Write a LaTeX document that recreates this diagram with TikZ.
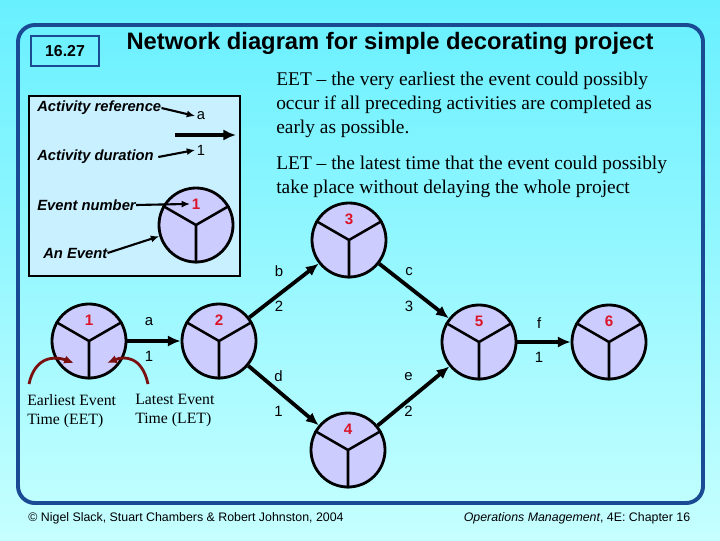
\documentclass[tikz,border=0pt]{standalone}
\usepackage{fontspec}
\setmainfont{Liberation Sans}
\newfontfamily\serifface{Liberation Serif}
\usetikzlibrary{arrows.meta}
\definecolor{bgtop}{RGB}{104,240,255}
\definecolor{bgbot}{RGB}{198,255,255}
\definecolor{framecol}{RGB}{26,74,148}
\definecolor{legendfill}{RGB}{200,240,255}
\definecolor{eventfill}{RGB}{204,204,255}
\definecolor{numred}{RGB}{220,20,40}
\definecolor{timered}{RGB}{122,16,16}

\begin{document}
\begin{tikzpicture}[x=0.025cm, y=-0.025cm,
    event/.style={circle, draw, line width=2pt, fill=eventfill, minimum size=1.85cm, inner sep=0pt},
    yline/.style={line width=1.8pt},
    evnum/.style={text=numred, font=\bfseries\fontsize{10.8}{12}\selectfont, inner sep=0pt},
    actarrow/.style={line width=2.7pt, -{Latex[length=9pt,width=8pt]}},
    actlabel/.style={font=\fontsize{10.6}{12}\selectfont, midway, inner sep=0pt, xshift=-3.5pt},
    legendtxt/.style={font=\bfseries\itshape\fontsize{10.5}{12}\selectfont, anchor=west, inner sep=0pt},
    legarrow/.style={line width=1.5pt, -{Latex[length=6pt,width=5pt]}},
    note/.style={font=\serifface\fontsize{13.8}{17}\selectfont, anchor=north west, align=left, inner sep=0pt},
    timetxt/.style={font=\serifface\fontsize{11.2}{13.5}\selectfont, anchor=north west, align=left, inner sep=0pt},
    timearrow/.style={draw=timered, line width=2pt, -{Latex[length=7pt,width=6pt]}}
]
\useasboundingbox (0,0) rectangle (720,540);
\shade[top color=bgtop, bottom color=bgbot] (0,0) rectangle (720,540);
\draw[framecol, line width=2.8pt, rounded corners=12pt] (18,25) rectangle (703,503);

% heading
\node[draw=framecol, line width=1.4pt, minimum width=1.68cm, minimum height=0.75cm, font=\bfseries\fontsize{11.3}{13}\selectfont] (chap) at (65,51) {16.27};
\node[font=\bfseries\fontsize{16.9}{19}\selectfont] (title) at (390,43) {Network diagram for simple decorating project};

% key
\draw[line width=2pt, fill=legendfill] (29,96) rectangle (240,276);
\node[legendtxt] (refl) at (37,108) {Activity reference};
\node[font=\fontsize{10.5}{12}\selectfont, inner sep=1pt] (refa) at (201,116) {a};
\coordinate (actstart) at (175,135);
\coordinate (actend) at (236,135);
\draw[line width=2.9pt, -{Latex[length=9pt,width=8pt]}] (actstart) -- (actend);
\node[legendtxt] (durl) at (37,157) {Activity duration};
\node[font=\fontsize{10.5}{12}\selectfont, inner sep=1pt] (dur1) at (201,150) {1};
\node[legendtxt] (evl) at (37,205) {Event number};
\node[legendtxt] (anl) at (43,253) {An Event};
\node[event] (lev) at (196,225) {};
\draw[yline] (lev.150) -- (lev.center) -- (lev.30) (lev.center) -- (lev.south);
\node[evnum] (levnum) at ([yshift=15pt]lev.center) {1};
\draw[legarrow] (refl.east) -- (refa.west);
\draw[legarrow] ([xshift=3pt]durl.east) -- (dur1.west);
\draw[legarrow] (evl.east) -- ([xshift=-1pt]levnum.west);
\draw[legarrow] (anl.east) -- (lev.197);

% explanations
\node[note] (eetnote) at (276,72) {EET – the very earliest the event could possibly\\occur if all preceding activities are completed as\\early as possible.};
\node[note] (letnote) at (276,156) {LET – the latest time that the event could possibly\\take place without delaying the whole project};

% network
\foreach \n/\x/\y in {1/89/341, 2/219/341, 3/349/240, 4/348/450, 5/479/342, 6/609/342} {
  \node[event] (e\n) at (\x,\y) {};
  \draw[yline] (e\n.150) -- (e\n.center) -- (e\n.30) (e\n.center) -- (e\n.south);
  \node[evnum] (num\n) at ([yshift=15pt]e\n.center) {\n};
}
\foreach \s/\t/\a/\d in {1/2/a/1, 2/3/b/2, 3/5/c/3, 2/4/d/1, 4/5/e/2, 5/6/f/1}
  \draw[actarrow] (e\s) -- (e\t)
    node[actlabel, yshift=13.5pt] {\a}
    node[actlabel, yshift=-11pt] {\d};

% EET / LET pointers
\coordinate (eetfoot) at (29,384);
\coordinate (eettip) at (74,363);
\coordinate (letfoot) at (148,384);
\coordinate (lettip) at (107,363);
\draw[timearrow] (eetfoot) .. controls (35,356) and (55,356) .. (eettip);
\draw[timearrow] (letfoot) .. controls (142,356) and (124,356) .. (lettip);
\node[timetxt] (eettxt) at (27,394) {Earliest Event\\Time (EET)};
\node[timetxt] (lettxt) at (135,394) {Latest Event\\Time (LET)};

% footer
\node[font=\fontsize{8.8}{10}\selectfont] (credit) at (186,518) {\textcopyright{} Nigel Slack, Stuart Chambers \& Robert Johnston, 2004};
\node[font=\fontsize{8.8}{10}\selectfont] (source) at (577,518) {\textit{Operations Management}, 4E: Chapter 16};
\end{tikzpicture}
\end{document}
